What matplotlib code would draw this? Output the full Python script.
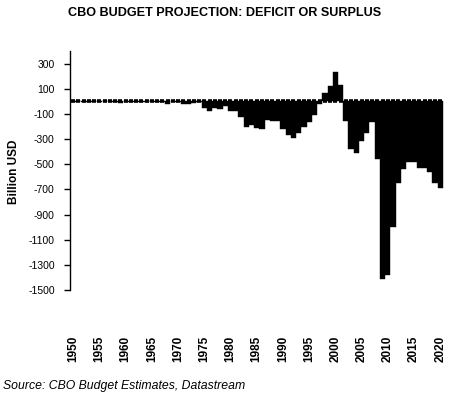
import matplotlib
matplotlib.use("Agg")
import matplotlib.pyplot as plt
import numpy as np

plt.rcParams['font.family'] = ['Liberation Sans', 'DejaVu Sans']

years = list(range(1950, 2021))
balance = [
    -3.1, 6.1, -1.5, -6.5, -1.2, -3.0, 3.9, 3.4, -2.8, -12.8,      # 1950-1959
    0.3, -3.3, -7.1, -4.8, -5.9, -1.4, -3.7, -8.6, -25.2, 3.2,     # 1960-1969
    -2.8, -23.0, -23.4, -14.9, -6.1, -53.2, -73.7, -53.7, -59.2, -40.7,  # 1970-1979
    -73.8, -79.0, -128.0, -207.8, -185.4, -212.3, -221.2, -149.7, -155.2, -152.6,  # 1980-1989
    -221.0, -269.2, -290.3, -255.1, -203.2, -164.0, -107.4, -21.9, 69.3, 125.6,  # 1990-1999
    236.2, 128.2, -157.8, -377.6, -412.7, -318.3, -248.2, -160.7, -458.6, -1412.7,  # 2000-2009
    -1380, -1000, -650, -540, -480, -485, -530, -530, -560, -650,  # 2010-2019
    -690,  # 2020
]
y_ticks = [300, 100, -100, -300, -500, -700, -900, -1100, -1300, -1500]
x_ticks = list(range(1950, 2021, 5))

fig = plt.figure(figsize=(4.5, 3.95), dpi=100)
ax = fig.add_axes([70/450, 1-290/395, 375/450, 239/395])

ax.bar(years, balance, width=1.0, color='black', edgecolor='black', linewidth=0.3)
ax.plot(years, [0]*len(years), linestyle='none', marker='_', markersize=3.4,
        markeredgewidth=2.6, color='black')

ax.set_xlim(1949.4, 2020.9)
ax.set_ylim(-1500, 400)
ax.set_yticks(y_ticks)
ax.set_yticklabels([str(v) for v in y_ticks])
ax.set_xticks(x_ticks)
ax.set_xticklabels([str(v) for v in x_ticks], rotation=90, fontweight='bold', fontsize=8.5)

for s in ['top', 'right', 'bottom']:
    ax.spines[s].set_visible(False)
ax.spines['left'].set_linewidth(1.0)
ax.tick_params(axis='y', direction='out', length=4, width=1, pad=7, labelsize=7.5)
ax.tick_params(axis='x', length=0, pad=33)

ax.set_ylabel('Billion USD', fontweight='bold', fontsize=8.5)
ax.yaxis.set_label_coords(-50/375, (290-172)/239)

fig.text(224.5/450, 1-13/395, 'CBO BUDGET PROJECTION: DEFICIT OR SURPLUS',
         ha='center', va='center', fontweight='bold', fontsize=9.1)
fig.text(3/450, 1-386/395, 'Source: CBO Budget Estimates, Datastream',
         ha='left', va='center', style='italic', fontsize=8.8)

fig.savefig('out.png', dpi=100)
